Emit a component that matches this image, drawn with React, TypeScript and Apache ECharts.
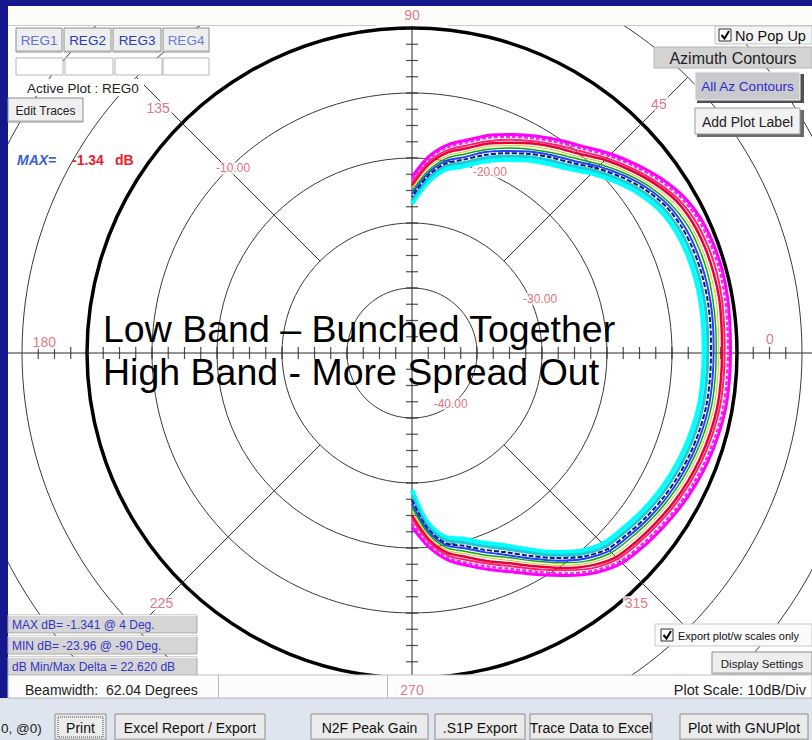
import React, { useEffect, useRef } from "react";
import * as echarts from "echarts";

// ---------------- DATA ----------------
const ANGLES = [-90, -85, -80, -75, -70, -65, -60, -55, -50, -45, -40, -35, -30, -25, -20, -15, -10, -5, 0, 5, 10, 15, 20, 25, 30, 35, 40, 45, 50, 55, 60, 65, 70, 75, 80, 85, 90];

const TRACE_01 = [-23.2, -20.0, -17.6, -16.1, -14.5, -12.8, -10.6, -8.2, -5.9, -4.3, -3.6, -3.0, -2.4, -1.9, -1.5, -1.2, -1.0, -1.0, -1.0, -0.9, -0.7, -0.6, -0.7, -1.0, -1.8, -3.2, -4.9, -6.7, -8.6, -10.1, -11.5, -12.9, -14.3, -16.0, -17.4, -19.6, -22.9];
const TRACE_02 = [-23.8, -20.4, -18.0, -16.5, -15.0, -13.3, -11.1, -8.6, -6.3, -4.7, -4.0, -3.4, -2.8, -2.3, -1.9, -1.6, -1.4, -1.4, -1.4, -1.3, -1.1, -1.0, -1.1, -1.4, -2.2, -3.6, -5.3, -7.1, -9.0, -10.5, -11.9, -13.3, -14.7, -16.4, -17.8, -20.0, -23.3];
const TRACE_03 = [-24.5, -20.9, -18.4, -17.0, -15.5, -13.8, -11.6, -9.2, -6.8, -5.2, -4.5, -3.9, -3.3, -2.8, -2.4, -2.1, -1.9, -1.9, -1.9, -1.8, -1.6, -1.5, -1.6, -1.9, -2.7, -4.1, -5.8, -7.6, -9.5, -11.0, -12.4, -13.8, -15.3, -16.9, -18.3, -20.5, -23.8];
const TRACE_04 = [-25.0, -21.3, -18.8, -17.5, -15.9, -14.3, -12.1, -9.6, -7.3, -5.6, -4.9, -4.3, -3.7, -3.2, -2.8, -2.5, -2.3, -2.3, -2.3, -2.2, -2.0, -2.0, -2.1, -2.4, -3.1, -4.5, -6.2, -8.0, -10.0, -11.4, -12.8, -14.3, -15.7, -17.4, -18.7, -20.9, -24.2];
const TRACE_05 = [-25.7, -21.8, -19.2, -18.0, -16.5, -14.8, -12.6, -10.1, -7.8, -6.1, -5.4, -4.8, -4.2, -3.7, -3.3, -3.0, -2.8, -2.8, -2.8, -2.7, -2.5, -2.5, -2.6, -2.9, -3.6, -5.0, -6.7, -8.5, -10.5, -11.9, -13.3, -14.8, -16.2, -17.9, -19.2, -21.4, -24.7];
const TRACE_06 = [-26.3, -22.2, -19.6, -18.4, -16.9, -15.3, -13.1, -10.6, -8.2, -6.6, -5.9, -5.2, -4.6, -4.1, -3.7, -3.4, -3.2, -3.2, -3.2, -3.1, -3.0, -2.9, -3.0, -3.3, -4.1, -5.4, -7.1, -9.0, -10.9, -12.4, -13.8, -15.2, -16.7, -18.3, -19.6, -21.9, -25.1];
const TRACE_07 = [-26.8, -22.6, -20.0, -18.9, -17.4, -15.7, -13.5, -11.0, -8.7, -7.0, -6.3, -5.6, -5.0, -4.5, -4.1, -3.8, -3.6, -3.6, -3.6, -3.5, -3.4, -3.4, -3.5, -3.8, -4.5, -5.8, -7.5, -9.4, -11.4, -12.8, -14.2, -15.7, -17.1, -18.8, -20.0, -22.3, -25.5];
const TRACE_08 = [-27.4, -23.0, -20.3, -19.3, -17.8, -16.2, -14.0, -11.5, -9.1, -7.4, -6.7, -6.0, -5.4, -4.9, -4.5, -4.2, -4.0, -4.0, -4.0, -3.9, -3.8, -3.8, -3.9, -4.2, -4.9, -6.2, -7.9, -9.8, -11.8, -13.2, -14.6, -16.1, -17.6, -19.2, -20.4, -22.7, -26.0];
const TRACE_09 = [-28.1, -23.4, -20.8, -19.8, -18.4, -16.8, -14.6, -12.0, -9.6, -7.9, -7.2, -6.5, -5.9, -5.4, -5.0, -4.7, -4.5, -4.5, -4.5, -4.4, -4.3, -4.3, -4.4, -4.7, -5.4, -6.7, -8.4, -10.3, -12.3, -13.7, -15.1, -16.6, -18.1, -19.7, -20.8, -23.2, -26.5];
const TRACE_10 = [-28.9, -24.0, -21.3, -20.4, -19.0, -17.4, -15.2, -12.6, -10.2, -8.5, -7.8, -7.1, -6.5, -6.0, -5.6, -5.3, -5.1, -5.1, -5.1, -5.0, -4.9, -4.9, -5.0, -5.3, -6.0, -7.3, -9.0, -10.9, -12.9, -14.3, -15.7, -17.2, -18.7, -20.3, -21.4, -23.8, -27.0];

const TRACES = [TRACE_10, TRACE_09, TRACE_08, TRACE_07, TRACE_06, TRACE_05, TRACE_04, TRACE_03, TRACE_02, TRACE_01];

const RING_LABELS = ["-10.00", "-20.00", "-30.00", "-40.00"];
const ANGLE_LABELS = ["0", "45", "90", "135", "180", "225", "270", "315"];
const TICK_DB = [-47.5, -45, -42.5, -40, -37.5, -35, -32.5, -30, -27.5, -25, -22.5, -20, -17.5, -15, -12.5, -10, -7.5, -5, -2.5, 0, 2.5, 5, 7.5];
const DIAGONALS = [45, 135, 225, 315];

// ---------------- STYLES ----------------
const F = "'Liberation Sans', Arial, sans-serif";
const TRACE_STYLES = [
  { color: "#00ffff", width: 4.5 },
  { color: "#22c8d2", width: 3 },
  { color: "#0a1a80", width: 2, type: [5, 2] },
  { color: "#2040ff", width: 2 },
  { color: "#10a810", width: 1.5 },
  { color: "#c8c820", width: 1 },
  { color: "#e8003c", width: 2.5 },
  { color: "#ff2070", width: 2 },
  { color: "#e830e8", width: 2.5, type: [4, 2] },
  { color: "#ff00ff", width: 3 },
];
const ANGLE_LABEL_POS = [[5.1, 2.2], [4.0, 45.3], [2.0, 90], [4.3, 136], [6.6, 178.3], [4.5, 225], [1.8, 270], [1.7, 311.9]];
const RING_LABEL_POS = [[-10.45, 134.1], [-19.7, 66.7], [-28.6, 23.0], [-40.2, 307.4]];

const toAng = (a: number) => (a < 0 ? a + 360 : a);

function rect(x: number, y: number, w: number, h: number, fill: string, stroke = "none", lw = 1) {
  return { type: "rect", shape: { x, y, width: w, height: h }, style: { fill, stroke, lineWidth: lw }, z: 100 };
}
function txt(x: number, y: number, text: string, size: number, color: string, align = "left", weight = "normal", fstyle = "normal") {
  return {
    type: "text",
    x,
    y,
    z: 101,
    style: {
      text,
      fill: color,
      font: `${fstyle} ${weight} ${size}px ${F}`,
      align,
      verticalAlign: "middle",
      textAlign: align,
      textVerticalAlign: "middle",
    },
  };
}
function hline(x1: number, y1: number, x2: number, y2: number, stroke: string, lw = 1) {
  return { type: "line", shape: { x1, y1, x2, y2 }, style: { stroke, lineWidth: lw }, z: 100 };
}
function button(x: number, y: number, w: number, h: number, label: string, size: number, color = "#1a1a1a", fill = "#ececec") {
  return [
    rect(x, y, w, h, fill, "#8c8c8c", 1),
    hline(x + 1, y + h - 1, x + w - 1, y + h - 1, "#a8a8a8"),
    txt(x + w / 2, y + h / 2 + 0.5, label, size, color, "center"),
  ];
}

function buildOption() {
  const series: any[] = [];

  DIAGONALS.forEach((a) => {
    series.push({
      type: "line",
      coordinateSystem: "polar",
      polarIndex: 0,
      data: [[-30, a], [10, a]],
      showSymbol: false,
      silent: true,
      lineStyle: { color: "#333", width: 1 },
      z: 1,
    });
  });

  series.push({
    type: "scatter",
    coordinateSystem: "polar",
    polarIndex: 0,
    symbol: "rect",
    symbolSize: [1.2, 12],
    itemStyle: { color: "#222" },
    silent: true,
    data: TICK_DB.flatMap((d) => [[d, 0], [d, 180]]),
    z: 1,
  });
  series.push({
    type: "scatter",
    coordinateSystem: "polar",
    polarIndex: 0,
    symbol: "rect",
    symbolSize: [12, 1.2],
    itemStyle: { color: "#222" },
    silent: true,
    data: TICK_DB.flatMap((d) => [[d, 90], [d, 270]]),
    z: 1,
  });

  TRACES.forEach((vals, i) => {
    const st: any = TRACE_STYLES[i];
    series.push({
      type: "line",
      coordinateSystem: "polar",
      polarIndex: 0,
      name: "Trace " + (10 - i),
      data: ANGLES.map((a, k) => [vals[k], toAng(a)]),
      showSymbol: false,
      smooth: 0.3,
      silent: true,
      lineStyle: { color: st.color, width: st.width, type: st.type || "solid" },
      z: 3,
    });
  });

  series.push({
    type: "scatter",
    coordinateSystem: "polar",
    polarIndex: 0,
    symbolSize: 1,
    itemStyle: { color: "rgba(0,0,0,0)" },
    silent: true,
    data: RING_LABELS.map((n, i) => ({ name: n, value: RING_LABEL_POS[i] })),
    label: {
      show: true,
      position: "inside",
      formatter: "{b}",
      color: "#e0485a",
      fontSize: 12,
      fontFamily: F,
      backgroundColor: "#ffffff",
      padding: [0, 1],
    },
    z: 5,
  });

  series.push({
    type: "scatter",
    coordinateSystem: "polar",
    polarIndex: 0,
    symbolSize: 1,
    itemStyle: { color: "rgba(0,0,0,0)" },
    silent: true,
    data: ANGLE_LABELS.map((n, i) => ({ name: n, value: ANGLE_LABEL_POS[i] })),
    label: {
      show: true,
      position: "inside",
      formatter: "{b}",
      color: "#d9546a",
      fontSize: 14,
      fontFamily: F,
      backgroundColor: "#ffffff",
      padding: [0, 2],
    },
    z: 150,
  });

  const g: any[] = [];
  g.push(rect(0, 0, 812, 6, "#15188c"));
  g.push(rect(0, 0, 8, 712, "#15188c"));
  g.push(rect(8, 6, 804, 20, "#fcfcf8"));
  g.push(hline(8, 25.5, 376, 25.5, "#c8c8c8"));
  g.push(hline(448, 25.5, 812, 25.5, "#c8c8c8"));

  const regs = [
    { x: 16, w: 46, c: "#5b73d6", t: "REG1" },
    { x: 64, w: 47, c: "#2b3cb8", t: "REG2" },
    { x: 113, w: 48, c: "#2b3cb8", t: "REG3" },
    { x: 163, w: 46, c: "#6b80d8", t: "REG4" },
  ];
  regs.forEach((r) => g.push(...button(r.x, 28, r.w, 24, r.t, 13.5, r.c, "#eeeeee")));
  [[16, 47], [65, 48], [115, 47], [163, 46]].forEach(([x, w]) => g.push(rect(x, 58, w, 17, "#ffffff", "#b4b4b4")));

  g.push(rect(24, 79, 120, 17, "#ffffff"));
  g.push(txt(27, 88, "Active Plot : REG0", 13.5, "#222"));
  g.push(...button(8, 98, 75, 24, "Edit Traces", 12, "#222", "#f0f0f0"));

  g.push(txt(17, 160, "MAX=", 14, "#3a62d8", "left", "bold", "italic"));
  g.push(txt(72, 160, "-1.34", 14, "#e82030", "left", "bold"));
  g.push(txt(115, 160, "dB", 14, "#e82030", "left", "bold"));

  g.push(rect(715, 26, 97, 18, "#f4f4f4", "#c4c4c4"));
  g.push(rect(719, 29, 12, 12, "#ffffff", "#333"));
  g.push({ type: "polyline", shape: { points: [[721.5, 35], [724.5, 38.5], [729, 31]] }, style: { stroke: "#000", lineWidth: 2, fill: "none" }, z: 101 });
  g.push(txt(735, 35.5, "No Pop Up", 14.5, "#111"));
  g.push(rect(654, 47, 158, 21, "#d3d3d3", "#b4b4b4"));
  g.push(txt(733, 58, "Azimuth Contours", 16, "#222", "center"));
  g.push(rect(697, 74, 107, 29, "#505050"));
  g.push(rect(695, 72, 105, 28, "#c9c9ce", "#f4f4f4"));
  g.push(txt(747.5, 86.5, "All Az Contours", 13.5, "#2a2ad0", "center"));
  g.push(rect(697, 110, 107, 27, "#6a6a6a"));
  g.push(rect(695, 108, 105, 26, "#f2f2f2", "#9a9a9a"));
  g.push(txt(747.5, 121.5, "Add Plot Label", 14, "#222", "center"));

  const info = ["MAX dB= -1.341 @ 4 Deg.", "MIN dB= -23.96 @ -90 Deg.", "dB Min/Max Delta = 22.620 dB"];
  info.forEach((t, i) => {
    const y = 615 + i * 21;
    g.push(rect(8, y, 189, 18, "#d5d5d5", "#a9a9a9"));
    g.push(hline(8, y + 0.5, 197, y + 0.5, "#f2f2f2"));
    g.push(txt(12, y + 9.5, t, 12, "#3434c4"));
  });

  g.push(rect(655, 624, 157, 22, "#fafafa", "#c8c8c8"));
  g.push(rect(661, 629, 12, 12, "#ffffff", "#333"));
  g.push({ type: "polyline", shape: { points: [[663.5, 635], [666.5, 638.5], [671, 631]] }, style: { stroke: "#000", lineWidth: 2, fill: "none" }, z: 101 });
  g.push(txt(678, 635.5, "Export plot/w scales only", 11, "#111"));
  g.push(...button(712, 652, 100, 22, "Display Settings", 11.5, "#222", "#eeeeee"));

  g.push(rect(8, 675, 804, 23, "#fcfcfc", "#bdbdbd"));
  g.push(hline(218.5, 675, 218.5, 698, "#bdbdbd"));
  g.push(hline(387.5, 675, 387.5, 698, "#bdbdbd"));
  g.push(txt(25, 690, "Beamwidth:  62.04 Degrees", 14, "#222"));
  g.push(txt(806, 690, "Plot Scale: 10dB/Div", 14.5, "#222", "right"));

  g.push(rect(0, 698, 812, 42, "#dfe5ee"));
  g.push(hline(8, 698.5, 812, 698.5, "#c4cad4"));
  g.push(txt(1, 728, "0, @0)", 13.5, "#222"));
  g.push(...button(55, 714, 51, 26, "Print", 14, "#111", "#ebebeb"));
  g.push({ type: "rect", shape: { x: 58, y: 717, width: 45, height: 20 }, style: { fill: "none", stroke: "#444", lineWidth: 1, lineDash: [1, 1] }, z: 101 });
  g.push(...button(115, 714, 150, 26, "Excel Report / Export", 14, "#111", "#ebebeb"));
  g.push(...button(311, 714, 117, 26, "N2F Peak Gain", 14, "#111", "#ebebeb"));
  g.push(...button(435, 714, 90, 26, ".S1P Export", 14, "#111", "#ebebeb"));
  g.push(...button(530, 714, 122, 26, "Trace Data to Excel", 14, "#111", "#ebebeb"));
  g.push(...button(680, 714, 128, 26, "Plot with GNUPlot", 14, "#111", "#ebebeb"));

  g.push({ type: "text", x: 103, y: 329, z: 120, style: { text: "Low Band \u2013 Bunched Together", fill: "#000", font: `normal 37.5px ${F}`, align: "left", verticalAlign: "middle", textAlign: "left", textVerticalAlign: "middle" } });
  g.push({ type: "text", x: 103, y: 372, z: 120, style: { text: "High Band - More Spread Out", fill: "#000", font: `normal 37.5px ${F}`, align: "left", verticalAlign: "middle", textAlign: "left", textVerticalAlign: "middle" } });

  return {
    animation: false,
    backgroundColor: "transparent",
    polar: [
      { center: [412, 353], radius: 455 },
      { center: [412, 353], radius: 325 },
    ],
    angleAxis: [
      {
        polarIndex: 0,
        type: "value",
        min: 0,
        max: 360,
        interval: 90,
        startAngle: 0,
        clockwise: false,
        axisLine: { show: false },
        axisTick: { show: false },
        axisLabel: { show: false },
        splitLine: { show: true, lineStyle: { color: "#2a2a2a", width: 1 } },
      },
      {
        polarIndex: 1,
        type: "value",
        min: 0,
        max: 360,
        startAngle: 0,
        clockwise: false,
        axisLine: { show: true, lineStyle: { color: "#000", width: 3.5 } },
        axisTick: { show: false },
        axisLabel: { show: false },
        splitLine: { show: false },
      },
    ],
    radiusAxis: [
      {
        polarIndex: 0,
        type: "value",
        min: -50,
        max: 20,
        interval: 10,
        axisLine: { show: false },
        axisTick: { show: false },
        axisLabel: { show: false },
        splitLine: { show: true, lineStyle: { color: "#3a3a3a", width: 1 } },
      },
      {
        polarIndex: 1,
        type: "value",
        min: 0,
        max: 1,
        axisLine: { show: false },
        axisTick: { show: false },
        axisLabel: { show: false },
        splitLine: { show: false },
      },
    ],
    series,
    graphic: { elements: g },
  };
}

export default function App() {
  const ref = useRef<HTMLDivElement>(null);
  useEffect(() => {
    const chart = echarts.init(ref.current!, null, { renderer: "svg" });
    chart.setOption(buildOption() as any);
    return () => chart.dispose();
  }, []);
  return (
    <div style={{ position: "fixed", left: 0, top: 0, width: 812, height: 740, background: "#15188c", overflow: "hidden" }}>
      <div style={{ position: "absolute", left: 8, top: 6, width: 804, height: 734, background: "#ffffff" }} />
      <div ref={ref} style={{ position: "absolute", left: 0, top: 0, width: 812, height: 740 }} />
    </div>
  );
}
